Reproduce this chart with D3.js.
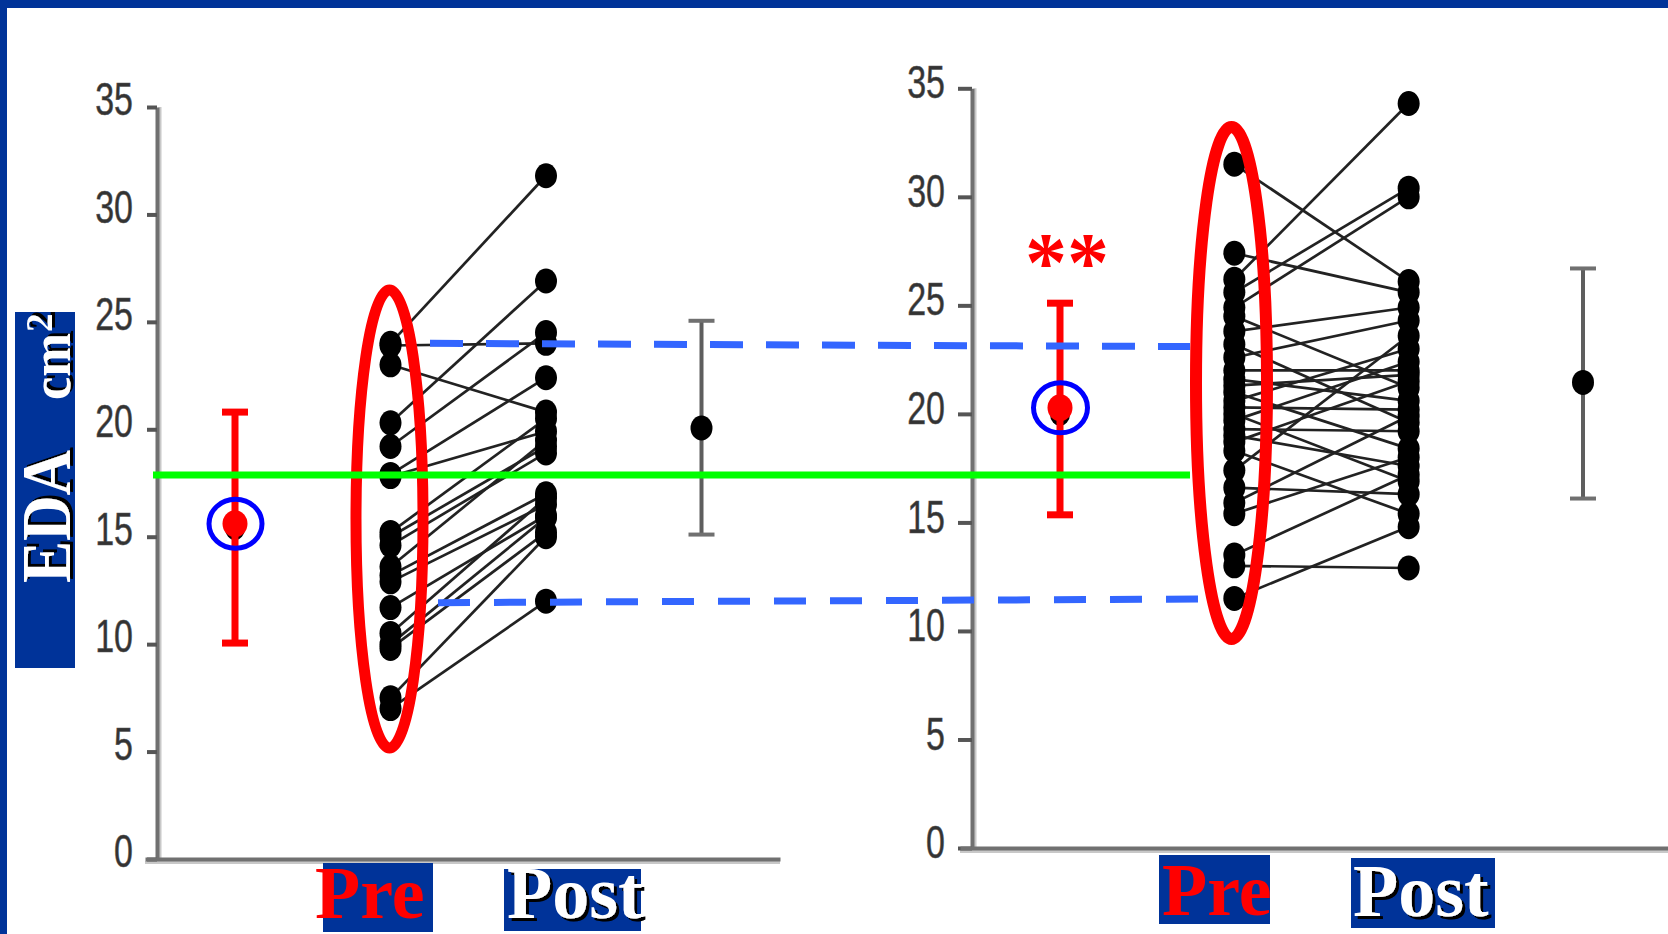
<!DOCTYPE html>
<html><head><meta charset="utf-8">
<script src="https://cdn.jsdelivr.net/npm/d3@7"></script>
<style>body{margin:0;background:#fff;overflow:hidden} svg{display:block}</style>
</head><body>
<svg id="chart" width="1668" height="934"></svg>
<script>
// ---------- data ----------
const yTicks = [0, 5, 10, 15, 20, 25, 30, 35];
const slots = ["summaryPre", "Pre", "Post", "summaryPost"];
const conditionLabels = ["Pre", "Post"];

const leftPre  = [24.0, 23.9, 23.0, 20.3, 19.2, 17.9, 17.8, 15.2, 15.0, 14.6, 13.6, 13.2, 12.9, 11.7, 10.5, 10.0, 9.8, 7.5, 7.0];
const leftPost = [31.8, 24.0, 20.8, 26.9, 24.5, 22.4, 19.9, 20.5, 19.2, 18.9, 19.5, 17.0, 16.5, 16.0, 16.8, 15.9, 15.2, 15.0, 12.0];

const rightPre  = [31.5, 27.4, 26.2, 25.6, 24.9, 24.5, 23.8, 23.2, 22.6, 22.0, 21.6, 21.3, 21.0, 20.6, 20.3, 20.0, 19.7, 19.3, 19.0, 18.7, 18.3, 17.4, 16.6, 15.9, 15.4, 13.5, 13.0, 11.5];
const rightPost = [26.1, 25.6, 34.3, 30.4, 30.0, 21.2, 24.9, 19.6, 24.3, 22.0, 20.6, 21.8, 18.4, 23.0, 20.2, 16.9, 22.4, 19.2, 17.6, 21.5, 15.4, 23.6, 16.3, 19.9, 18.0, 17.2, 12.9, 14.8];

// [low, mean, high]
const leftRedBar    = [10.05, 15.6, 20.8];
const leftBlackBar  = [15.1, 20.06, 25.05];
const rightRedBar   = [15.35, 20.28, 25.1];
const rightBlackBar = [16.1, 21.45, 26.7];
const leftOrigMean  = 15.4;
const rightOrigMean = 20.0;

const refLine   = 17.87;          // green reference (left scale)
const dashUpper = [24.0, 23.1];   // [left scale, right scale]
const dashLower = [11.93, 11.47];
const significance = "**";

// ---------- layout ----------
const svg = d3.select("#chart");
const defs = svg.append("defs");
const shadow = defs.append("filter").attr("id", "shadow").attr("x", "-10%").attr("y", "-10%").attr("width", "130%").attr("height", "130%");
shadow.append("feDropShadow").attr("dx", 3).attr("dy", 3).attr("stdDeviation", 0).attr("flood-color", "#000").attr("flood-opacity", 1);

const yL = d3.scaleLinear().domain([0, 35]).range([859, 107]);
const yR = d3.scaleLinear().domain([0, 35]).range([848, 88.3]);
const xL = d3.scalePoint().domain(slots).range([235, 701.5]);
const xR = d3.scalePoint().domain(slots).range([1060, 1583]);

const BLUE = "#003399";

function drawAxes(y, x0, tickLen, pad, labelShift, xStart, xEnd) {
  svg.append("line").attr("x1", x0 + 3).attr("x2", x0 + 3).attr("y1", y(35)).attr("y2", y(0))
     .attr("stroke", "#c8c8c8").attr("stroke-width", 3);
  svg.append("line").attr("x1", xStart).attr("x2", xEnd).attr("y1", y(0) + 3.5).attr("y2", y(0) + 3.5)
     .attr("stroke", "#c8c8c8").attr("stroke-width", 3);

  const g = svg.append("g").attr("transform", `translate(${x0},0)`)
    .call(d3.axisLeft(y).tickValues(yTicks).tickSizeInner(tickLen).tickSizeOuter(0).tickPadding(pad));
  g.select(".domain").attr("stroke", "#707070").attr("stroke-width", 4);
  g.selectAll(".tick line").attr("stroke", "#555").attr("stroke-width", 4);
  g.selectAll(".tick text")
    .attr("font-family", "'Liberation Sans', Arial, sans-serif")
    .attr("font-size", 34).attr("fill", "#333")
    .attr("stroke", "#555").attr("stroke-width", 0.4)
    .attr("x", 0).attr("dy", "0.34em")
    .attr("transform", `translate(${-(tickLen + pad)},${labelShift}) scale(1,1.35)`);

  const xs = d3.scaleLinear().domain([0, 1]).range([xStart, xEnd]);
  const gx = svg.append("g").attr("transform", `translate(0,${y(0)})`)
    .call(d3.axisBottom(xs).tickValues([]).tickSizeOuter(0));
  gx.select(".domain").attr("stroke", "#707070").attr("stroke-width", 4);
}

drawAxes(yL, 157, 10, 14, -8, 145, 780);
drawAxes(yR, 972, 14, 13, -6, 960, 1668);

function drawPanel(x, y, pre, post, blackBar) {
  const pairs = pre.map((p, i) => [p, post[i]]);
  svg.append("g").selectAll("line").data(pairs).join("line")
    .attr("x1", x("Pre")).attr("y1", d => y(d[0]))
    .attr("x2", x("Post")).attr("y2", d => y(d[1]))
    .attr("stroke", "#222").attr("stroke-width", 2.7);
  const dots = svg.append("g").attr("fill", "#000");
  dots.selectAll(".pre").data(pre).join("ellipse").attr("class", "pre")
    .attr("cx", x("Pre")).attr("cy", d => y(d)).attr("rx", 11).attr("ry", 12.5);
  dots.selectAll(".post").data(post).join("ellipse").attr("class", "post")
    .attr("cx", x("Post")).attr("cy", d => y(d)).attr("rx", 11).attr("ry", 12.5);

  const bx = x("summaryPost");
  const gb = svg.append("g");
  gb.append("line").attr("x1", bx).attr("x2", bx).attr("y1", y(blackBar[0])).attr("y2", y(blackBar[2]))
    .attr("stroke", "#5e5e5e").attr("stroke-width", 4);
  gb.selectAll(".cap").data([blackBar[0], blackBar[2]]).join("line").attr("class", "cap")
    .attr("x1", bx - 13).attr("x2", bx + 13).attr("y1", d => y(d)).attr("y2", d => y(d))
    .attr("stroke", "#707070").attr("stroke-width", 4);
  gb.append("ellipse").attr("cx", bx).attr("cy", y(blackBar[1])).attr("rx", 11).attr("ry", 12.5).attr("fill", "#000");
}

drawPanel(xL, yL, leftPre, leftPost, leftBlackBar);
drawPanel(xR, yR, rightPre, rightPost, rightBlackBar);

function drawRedBar(x, y, bar, origMean, ring) {
  const rx = x("summaryPre");
  const g = svg.append("g");
  g.append("ellipse").attr("cx", rx).attr("cy", y(origMean)).attr("rx", 10).attr("ry", 12).attr("fill", "#000");
  g.append("line").attr("x1", rx).attr("x2", rx).attr("y1", y(bar[0])).attr("y2", y(bar[2]))
    .attr("stroke", "#ff0000").attr("stroke-width", 7);
  g.selectAll(".cap").data([bar[0], bar[2]]).join("line").attr("class", "cap")
    .attr("x1", rx - 13).attr("x2", rx + 13).attr("y1", d => y(d)).attr("y2", d => y(d))
    .attr("stroke", "#ff0000").attr("stroke-width", 7);
  g.append("ellipse").attr("cx", rx).attr("cy", y(bar[1])).attr("rx", 12.5).attr("ry", 13.5).attr("fill", "#ff0000");
  g.append("ellipse").attr("cx", rx + 0.5).attr("cy", y(bar[1])).attr("rx", ring[0]).attr("ry", ring[1])
    .attr("fill", "none").attr("stroke", "#0000ff").attr("stroke-width", 5);
}
drawRedBar(xL, yL, leftRedBar, leftOrigMean, [26.5, 24.5]);
drawRedBar(xR, yR, rightRedBar, rightOrigMean, [27, 25]);

// red ellipses around Pre groups
svg.append("ellipse").attr("cx", 389.5).attr("cy", 519).attr("rx", 33.5).attr("ry", 229)
  .attr("fill", "none").attr("stroke", "#ff0000").attr("stroke-width", 11);
svg.append("ellipse").attr("cx", 1231.5).attr("cy", 383).attr("rx", 35.5).attr("ry", 256)
  .attr("fill", "none").attr("stroke", "#ff0000").attr("stroke-width", 12);

// green reference line
svg.append("line").attr("x1", 153).attr("x2", 1190).attr("y1", yL(refLine)).attr("y2", yL(refLine))
  .attr("stroke", "#00ff00").attr("stroke-width", 7);

// blue dashed lines
svg.append("line").attr("x1", 430).attr("y1", yL(dashUpper[0])).attr("x2", 1190).attr("y2", yR(dashUpper[1]))
  .attr("stroke", "#3366ff").attr("stroke-width", 7).attr("stroke-dasharray", "33 23");
svg.append("line").attr("x1", 438).attr("y1", yL(dashLower[0])).attr("x2", 1198).attr("y2", yR(dashLower[1]))
  .attr("stroke", "#3366ff").attr("stroke-width", 7).attr("stroke-dasharray", "32 24");

// significance stars
svg.append("text").attr("x", xR("summaryPre") + 7).attr("y", 291).attr("text-anchor", "middle")
  .attr("font-family", "'Liberation Serif', 'Times New Roman', serif").attr("font-weight", "bold")
  .attr("font-size", 84).attr("fill", "#ff0000").text(significance);

// condition labels
const SERIF = "'Liberation Serif', 'Times New Roman', serif";
const labelBoxes = [
  {box: [323, 863, 110, 69], tx: 315, ty: 917.5, t: conditionLabels[0], pre: true},
  {box: [504, 869, 137, 62], tx: 507, ty: 917.5, t: conditionLabels[1], pre: false},
  {box: [1159, 855, 111, 69], tx: 1162, ty: 915, t: conditionLabels[0], pre: true},
  {box: [1351, 858, 144, 70], tx: 1353, ty: 916, t: conditionLabels[1], pre: false}
];
labelBoxes.forEach(d => {
  svg.append("rect").attr("x", d.box[0]).attr("y", d.box[1]).attr("width", d.box[2]).attr("height", d.box[3]).attr("fill", BLUE);
  const t = svg.append("text").attr("x", d.tx).attr("y", d.ty).attr("font-family", SERIF).attr("font-weight", "bold")
    .attr("font-size", 74).attr("fill", d.pre ? "#ff0000" : "#ffffff").text(d.t);
  if (!d.pre) t.attr("filter", "url(#shadow)");
});

// y-axis title box
svg.append("rect").attr("x", 15).attr("y", 312).attr("width", 60).attr("height", 356).attr("fill", BLUE);
const tg = svg.append("g").attr("transform", "translate(70,583) rotate(-90)")
  .attr("font-family", SERIF).attr("font-weight", "bold").attr("fill", "#fff").attr("filter", "url(#shadow)");
tg.append("text").attr("x", 0).attr("y", 0).attr("font-size", 70).attr("textLength", 133)
  .attr("lengthAdjust", "spacingAndGlyphs").text("EDA");
tg.append("text").attr("x", 183).attr("y", 0).attr("font-size", 58).attr("textLength", 67)
  .attr("lengthAdjust", "spacingAndGlyphs").text("cm");
tg.append("text").attr("x", 251).attr("y", -18).attr("font-size", 37).text("2");

// frame
svg.append("rect").attr("x", 0).attr("y", 0).attr("width", 1668).attr("height", 8).attr("fill", BLUE);
svg.append("rect").attr("x", 0).attr("y", 0).attr("width", 7).attr("height", 934).attr("fill", BLUE);
</script>
</body></html>
